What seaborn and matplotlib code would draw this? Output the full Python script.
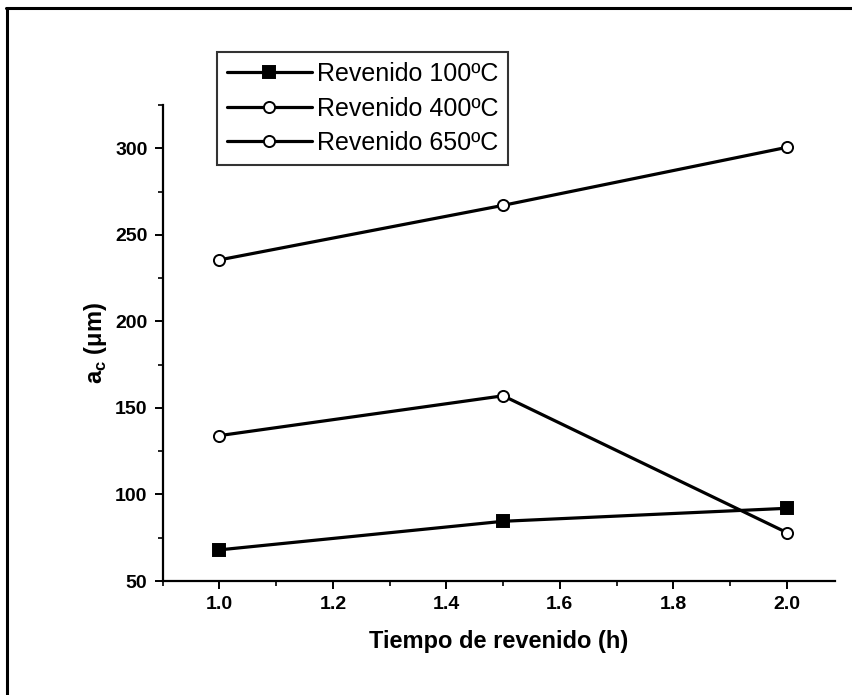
import matplotlib
matplotlib.use("Agg")
import matplotlib.pyplot as plt
from matplotlib.lines import Line2D
from matplotlib.ticker import MultipleLocator
import seaborn as sns
import pandas as pd

# Tempering time (h) and critical crack size a_c (µm) per tempering temperature
tiempo = [1.0, 1.5, 2.0]
ac_100 = [68, 84.5, 92]
ac_400 = [134, 157, 78]
ac_650 = [235.5, 267, 300.5]
series_labels = ["Revenido 100ºC", "Revenido 400ºC", "Revenido 650ºC"]

sns.set_theme(style="ticks")
plt.rcParams["font.family"] = ["Liberation Sans", "DejaVu Sans"]
plt.rcParams["text.color"] = "black"
plt.rcParams["axes.labelcolor"] = "black"
plt.rcParams["xtick.color"] = "black"
plt.rcParams["ytick.color"] = "black"

fig = plt.figure(figsize=(8.52, 6.95), dpi=100)
ax = fig.add_axes([0.191, 0.164, 0.789, 0.685])

styles = [
    dict(marker="s", mfc="black", mec="black"),
    dict(marker="o", mfc="white", mec="black"),
    dict(marker="o", mfc="white", mec="black"),
]
for vals, lab, st in zip([ac_100, ac_400, ac_650], series_labels, styles):
    df = pd.DataFrame({"t": tiempo, "ac": vals})
    sns.lineplot(data=df, x="t", y="ac", ax=ax, color="black", linewidth=2.3,
                 marker=st["marker"], markersize=8, markerfacecolor=st["mfc"],
                 markeredgecolor=st["mec"], markeredgewidth=1.4, label=lab)

ax.set_xlim(0.9, 2.085)
ax.set_ylim(50, 325)
ax.xaxis.set_major_locator(MultipleLocator(0.2))
ax.xaxis.set_minor_locator(MultipleLocator(0.1))
ax.yaxis.set_major_locator(MultipleLocator(50))
ax.yaxis.set_minor_locator(MultipleLocator(25))
ax.set_xticks([1.0, 1.2, 1.4, 1.6, 1.8, 2.0])
ax.set_xticklabels(["1.0", "1.2", "1.4", "1.6", "1.8", "2.0"])

for s in ["top", "right"]:
    ax.spines[s].set_visible(False)
for s in ["left", "bottom"]:
    ax.spines[s].set_linewidth(1.6)
    ax.spines[s].set_color("black")

ax.tick_params(which="major", direction="out", length=6, width=1.4, colors="black",
               labelsize=14, pad=5)
ax.tick_params(which="minor", direction="out", length=3.5, width=1.2, colors="black")
for t in ax.get_xticklabels() + ax.get_yticklabels():
    t.set_fontweight("bold")

ax.set_xlabel("Tiempo de revenido (h)", fontsize=17, fontweight="bold", labelpad=12)
ax.set_ylabel(r"a$_\mathregular{c}$ ($\mathregular{\mu}$m)", fontsize=17,
              fontweight="bold", labelpad=4)

leg = ax.legend(loc="upper left", bbox_to_anchor=(0.080, 1.111), borderaxespad=0,
                fontsize=18, frameon=True, fancybox=False, handlelength=3.4,
                handletextpad=0.2, borderpad=0.4, labelspacing=0.42)
leg.get_frame().set_edgecolor("black")
leg.get_frame().set_linewidth(1.5)

# Outer frame around the figure (top and left edges)
fig.add_artist(Line2D([0.007, 1.0], [0.989, 0.989], transform=fig.transFigure,
                      color="black", linewidth=2.2))
fig.add_artist(Line2D([0.008, 0.008], [0.0, 0.989], transform=fig.transFigure,
                      color="black", linewidth=2.2))

fig.savefig("out.png", dpi=100)
